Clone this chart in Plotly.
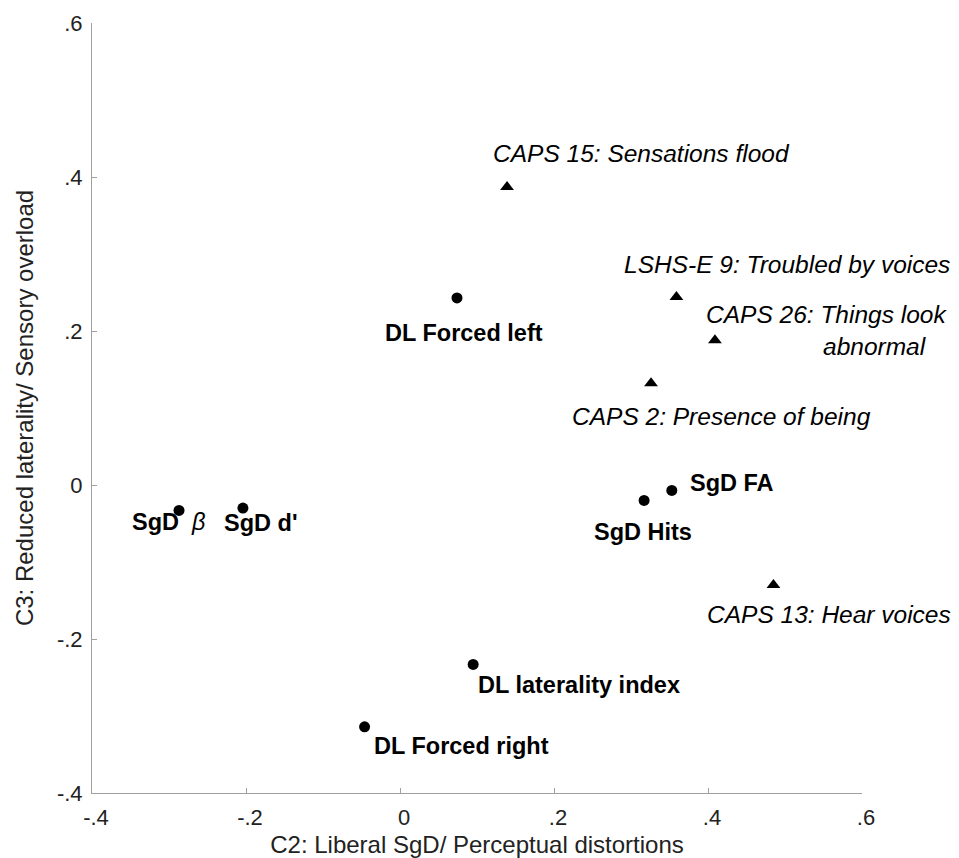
import plotly.graph_objects as go

# Data
circle_labels = ["DL Forced left", "SgD Hits", "SgD FA", "DL laterality index",
                 "DL Forced right", "SgD β", "SgD d'"]
circle_x = [0.074, 0.317, 0.353, 0.095, -0.046, -0.287, -0.204]
circle_y = [0.243, -0.020, -0.007, -0.233, -0.314, -0.033, -0.030]

tri_labels = ["CAPS 15: Sensations flood", "LSHS-E 9: Troubled by voices",
              "CAPS 26: Things look abnormal", "CAPS 2: Presence of being",
              "CAPS 13: Hear voices"]
tri_x = [0.139, 0.359, 0.409, 0.326, 0.485]
tri_y = [0.387, 0.244, 0.188, 0.132, -0.130]

tick_vals = [-0.4, -0.2, 0, 0.2, 0.4, 0.6]
tick_text = ["-.4", "-.2", "0", ".2", ".4", ".6"]

x_title = "C2: Liberal SgD/ Perceptual distortions"
y_title = "C3: Reduced laterality/ Sensory overload"

FONT = "Liberation Sans, Arial, Helvetica, sans-serif"

fig = go.Figure()
fig.add_trace(go.Scatter(x=circle_x, y=circle_y, mode="markers",
                         marker=dict(symbol="circle", size=11, color="black"),
                         hoverinfo="skip", showlegend=False))
fig.add_trace(go.Scatter(x=tri_x, y=tri_y, mode="markers",
                         marker=dict(symbol="triangle-up", size=12, color="black"),
                         hoverinfo="skip", showlegend=False))

# label styling: (text, xanchor, xshift, yshift)
circle_style = {
    "DL Forced left": ("<b>DL Forced left</b>", "center", 7, -35),
    "SgD Hits": ("<b>SgD Hits</b>", "center", -1, -32),
    "SgD FA": ("<b>SgD FA</b>", "center", 60, 7),
    "DL laterality index": ("<b>DL laterality index</b>", "center", 106, -21),
    "DL Forced right": ("<b>DL Forced right</b>", "center", 97, -19),
    "SgD β": ("<b>SgD</b>  <i>β</i>", "center", -10, -12),
    "SgD d'": ("<b>SgD d'</b>", "center", 18, -15),
}
for lab, x, y in zip(circle_labels, circle_x, circle_y):
    t, xa, xs, ys = circle_style[lab]
    fig.add_annotation(x=x, y=y, xref="x", yref="y", text=t, showarrow=False,
                       xanchor=xa, yanchor="middle", xshift=xs, yshift=ys,
                       font=dict(family=FONT, size=23.5, color="black"))

tri_style = {
    "CAPS 15: Sensations flood": [("<i>CAPS 15: Sensations flood</i>", "center", 134, 34)],
    "LSHS-E 9: Troubled by voices": [("<i>LSHS-E 9: Troubled by voices</i>", "right", 276, 33)],
    "CAPS 26: Things look abnormal": [("<i>CAPS 26: Things look</i>", "center", 112, 26),
                                      ("<i>abnormal</i>", "center", 160, -6)],
    "CAPS 2: Presence of being": [("<i>CAPS 2: Presence of being</i>", "center", 70, -33)],
    "CAPS 13: Hear voices": [("<i>CAPS 13: Hear voices</i>", "right", 180, -29)],
}
for lab, x, y in zip(tri_labels, tri_x, tri_y):
    for t, xa, xs, ys in tri_style[lab]:
        fig.add_annotation(x=x, y=y, xref="x", yref="y", text=t, showarrow=False,
                           xanchor=xa, yanchor="middle", xshift=xs, yshift=ys,
                           font=dict(family=FONT, size=24.5, color="black"))

axis_common = dict(
    tickmode="array", tickvals=tick_vals, ticktext=tick_text,
    showgrid=False, zeroline=False, showline=True, linecolor="#a0a0a0",
    linewidth=1, ticks="inside", ticklen=5, tickcolor="#a0a0a0", mirror=False,
    tickfont=dict(family=FONT, size=22, color="#222"), automargin=False,
)
fig.update_xaxes(range=[-0.4, 0.6], **axis_common, ticklabelstandoff=5,
                 ticklabelshift=4,
                 title=dict(text=x_title, font=dict(family=FONT, size=24, color="#222"),
                            standoff=12))
fig.update_yaxes(range=[-0.4, 0.6], **axis_common, ticklabelstandoff=4,
                 title=dict(text=y_title, font=dict(family=FONT, size=24, color="#222"),
                            standoff=16))

fig.update_layout(
    width=951, height=850,
    margin=dict(l=84, r=97, t=15, b=65, autoexpand=False),
    plot_bgcolor="white", paper_bgcolor="white",
    showlegend=False,
)

fig.write_html("out.html")
